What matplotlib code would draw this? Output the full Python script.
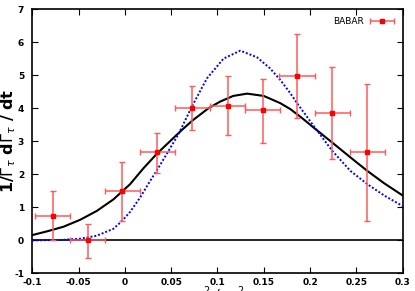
import matplotlib
matplotlib.use('Agg')
import matplotlib.pyplot as plt
from matplotlib.ticker import MultipleLocator, FormatStrFormatter
from matplotlib.container import ErrorbarContainer
from matplotlib.legend_handler import HandlerErrorbar

# BABAR data points (bin centre, value, errors)
t_data = [-0.078, -0.040, -0.003, 0.035, 0.073, 0.111, 0.149, 0.186, 0.224, 0.262]
y_data = [0.73, 0.00, 1.48, 2.66, 4.01, 4.07, 3.93, 4.97, 3.86, 2.67]
y_err_up = [0.75, 0.50, 0.88, 0.60, 0.67, 0.89, 0.96, 1.27, 1.40, 2.07]
y_err_dn = [0.73, 0.52, 0.88, 0.61, 0.67, 0.89, 0.98, 1.27, 1.41, 2.09]
t_halfwidth = 0.019

# solid black curve
t_black = [-0.100, -0.0845, -0.0666, -0.0485, -0.0304, -0.0124, 0.0056, 0.020, 0.0345,
           0.048, 0.060, 0.0727, 0.0904, 0.103, 0.117, 0.132, 0.150, 0.168, 0.1788,
           0.191, 0.204, 0.224, 0.2437, 0.262, 0.280, 0.300]
y_black = [0.16, 0.27, 0.41, 0.62, 0.89, 1.24, 1.70, 2.18, 2.62,
           2.98, 3.30, 3.62, 4.00, 4.20, 4.37, 4.44, 4.37, 4.15, 3.97,
           3.71, 3.41, 2.96, 2.51, 2.10, 1.73, 1.36]

# dotted blue curve
t_blue = [-0.100, -0.070, -0.0485, -0.0304, -0.0124, -0.0034, 0.0056, 0.0165, 0.0273,
          0.0363, 0.0453, 0.058, 0.0724, 0.0886, 0.1066, 0.1247, 0.1427, 0.157,
          0.168, 0.1788, 0.186, 0.204, 0.224, 0.2437, 0.262, 0.280, 0.300]
y_blue = [0.00, 0.01, 0.05, 0.14, 0.35, 0.58, 0.86, 1.30, 1.80,
          2.20, 2.62, 3.22, 4.05, 4.90, 5.50, 5.74, 5.54, 5.20,
          4.85, 4.45, 4.15, 3.46, 2.71, 2.10, 1.70, 1.36, 1.04]

fig = plt.figure(figsize=(4.15, 2.91), dpi=100)
ax = fig.add_axes([0.078, 0.0605, 0.892, 0.9085])

ax.axhline(0, color='black', linewidth=1.2, zorder=1)
ax.plot(t_black, y_black, color='black', linewidth=1.5, zorder=3)
ax.plot(t_blue, y_blue, color='blue', linestyle=(0, (1, 1)), linewidth=1.4, zorder=3)

ax.errorbar(t_data, y_data, xerr=t_halfwidth, yerr=[y_err_dn, y_err_up],
            fmt='s', color='red', markersize=3.5, ecolor='#ff5a5a',
            elinewidth=1.1, capsize=2, capthick=1.0, label='BABAR', zorder=4)

ax.set_xlim(-0.1, 0.3)
ax.set_ylim(-1, 7)
ax.xaxis.set_major_locator(MultipleLocator(0.05))
ax.yaxis.set_major_locator(MultipleLocator(1))
ax.xaxis.set_major_formatter(FormatStrFormatter('%g'))
ax.yaxis.set_major_formatter(FormatStrFormatter('%g'))
ax.tick_params(direction='in', top=True, right=True, length=4, width=0.8,
               labelsize=6.5, pad=3)
ax.tick_params(axis='y', pad=6)
for lab in ax.get_xticklabels() + ax.get_yticklabels():
    lab.set_fontweight('bold')
for sp in ax.spines.values():
    sp.set_linewidth(1.2)

fig.text(9 / 415, 0.515, r'1/$\Gamma_\tau$ d$\Gamma_\tau$ / dt', fontsize=11.5,
         fontweight='semibold', rotation=90, ha='center', va='center')
fig.text(0.53, -0.055, r'q$^2$ / m$_\tau^2$', fontsize=10, ha='center', va='bottom')

leg = ax.legend(loc='upper right', frameon=False, fontsize=6.5, markerfirst=False,
                handlelength=2.8, handletextpad=0.6, borderaxespad=0.5,
                handler_map={ErrorbarContainer: HandlerErrorbar(xerr_size=1.3, yerr_size=0.0)})

plt.savefig('out.png', dpi=100)
plt.close()
